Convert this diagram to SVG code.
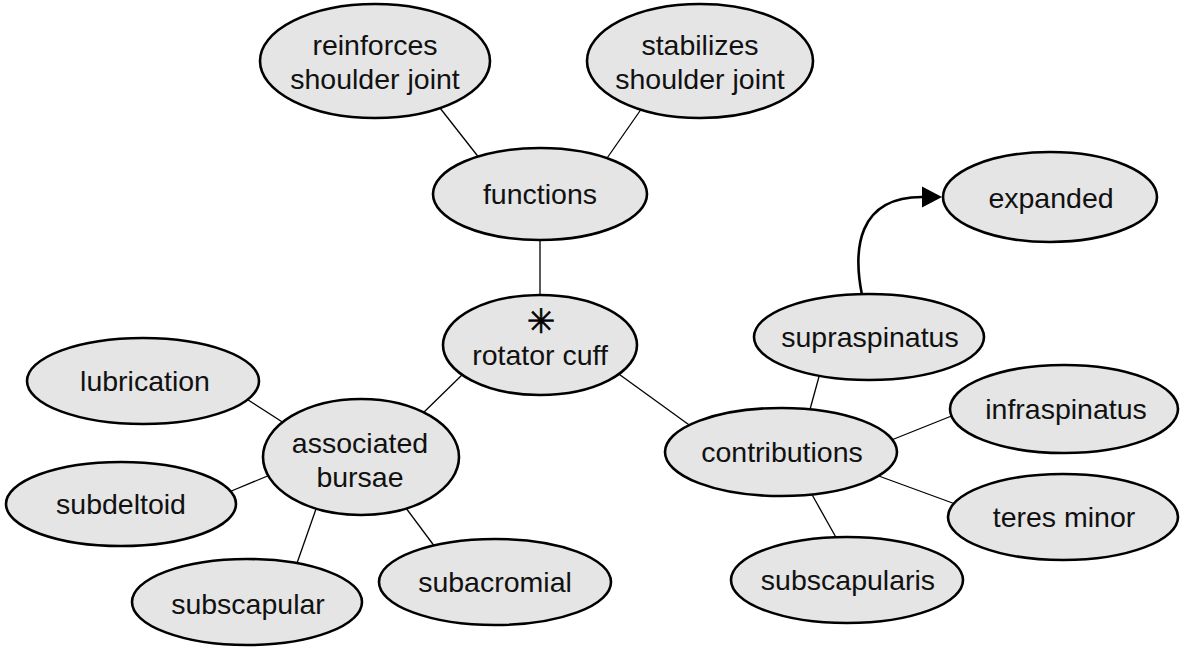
<svg xmlns="http://www.w3.org/2000/svg" width="1180" height="647" viewBox="0 0 1180 647">
<defs>
<style>
.n ellipse{fill:#e5e5e5;stroke:#000;stroke-width:2.6}
.n text{font-family:"Liberation Sans",Arial,sans-serif;font-size:28.5px;fill:#111;text-anchor:middle}
.n text.star{font-family:"DejaVu Sans",sans-serif;font-size:34px;fill:#000;stroke:#000;stroke-width:0.6}
.c line{stroke:#000;stroke-width:1.3}
.arr{fill:none;stroke:#000;stroke-width:2.6}
</style>
<marker id="ah" markerWidth="21" markerHeight="22" refX="0" refY="11" orient="auto" markerUnits="userSpaceOnUse">
<path d="M0,0.5 L20,11 L0,21.5 Z" fill="#000"/>
</marker>
</defs>
<rect width="1180" height="647" fill="#fff"/>
<g id="connectors" class="c">
<line x1="440" y1="108" x2="480" y2="159"/>
<line x1="642" y1="108" x2="605" y2="161"/>
<line x1="540" y1="236" x2="540" y2="299"/>
<line x1="464" y1="373" x2="420" y2="416"/>
<line x1="616" y1="372" x2="692" y2="427"/>
<line x1="820" y1="373" x2="809" y2="413"/>
<line x1="889" y1="441" x2="954" y2="415"/>
<line x1="876" y1="475" x2="958" y2="505"/>
<line x1="810" y1="491" x2="838" y2="541"/>
<line x1="245" y1="398" x2="287" y2="425"/>
<line x1="229" y1="492" x2="270" y2="475"/>
<line x1="316" y1="509" x2="296" y2="566"/>
<line x1="406" y1="508" x2="435" y2="547"/>
<path class="arr" d="M862,295 C853,250 857,197 922,197" marker-end="url(#ah)"/>
</g>
<g id="reinforces" class="n"><ellipse cx="375" cy="61" rx="115" ry="57"/><text x="375" y="55">reinforces</text><text x="375" y="89">shoulder joint</text></g>
<g id="stabilizes" class="n"><ellipse cx="700" cy="61" rx="113" ry="57"/><text x="700" y="55">stabilizes</text><text x="700" y="89">shoulder joint</text></g>
<g id="functions" class="n"><ellipse cx="540" cy="194" rx="107" ry="46"/><text x="540" y="204">functions</text></g>
<g id="rotator-cuff" class="n"><ellipse cx="540" cy="345" rx="97" ry="50"/><text class="star" x="541" y="333">✳</text><text x="540" y="365">rotator cuff</text></g>
<g id="expanded" class="n"><ellipse cx="1050" cy="197" rx="107" ry="45"/><text x="1051" y="208">expanded</text></g>
<g id="supraspinatus" class="n"><ellipse cx="869" cy="337" rx="115" ry="43"/><text x="870" y="347">supraspinatus</text></g>
<g id="infraspinatus" class="n"><ellipse cx="1064" cy="409" rx="114" ry="44"/><text x="1066" y="419">infraspinatus</text></g>
<g id="contributions" class="n"><ellipse cx="781" cy="452" rx="116" ry="44"/><text x="782" y="462">contributions</text></g>
<g id="teres-minor" class="n"><ellipse cx="1063" cy="517" rx="115" ry="43"/><text x="1064" y="527">teres minor</text></g>
<g id="subscapularis" class="n"><ellipse cx="847" cy="580" rx="116" ry="43"/><text x="848" y="590">subscapularis</text></g>
<g id="lubrication" class="n"><ellipse cx="143" cy="381" rx="116" ry="43"/><text x="145" y="391">lubrication</text></g>
<g id="associated-bursae" class="n"><ellipse cx="361" cy="457" rx="98" ry="58"/><text x="360" y="453">associated</text><text x="360" y="487">bursae</text></g>
<g id="subdeltoid" class="n"><ellipse cx="121" cy="504" rx="115" ry="42"/><text x="121" y="514">subdeltoid</text></g>
<g id="subscapular" class="n"><ellipse cx="247" cy="602" rx="115" ry="43"/><text x="248" y="614">subscapular</text></g>
<g id="subacromial" class="n"><ellipse cx="495" cy="582" rx="116" ry="43"/><text x="495" y="592">subacromial</text></g>
</svg>
